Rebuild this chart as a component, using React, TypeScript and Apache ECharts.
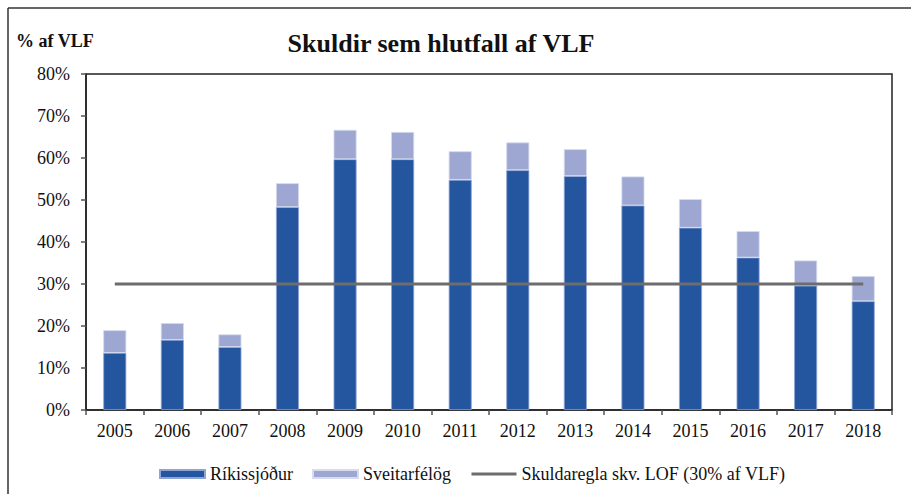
import React, { useEffect, useRef } from "react";
import * as echarts from "echarts";

const years = ["2005", "2006", "2007", "2008", "2009", "2010", "2011", "2012", "2013", "2014", "2015", "2016", "2017", "2018"];
const rikissjodur = [13.6, 16.7, 15.0, 48.3, 59.7, 59.7, 54.8, 57.1, 55.7, 48.7, 43.4, 36.3, 29.6, 25.9];
const sveitarfelog = [5.4, 4.0, 3.0, 5.7, 7.0, 6.5, 6.8, 6.6, 6.4, 6.9, 6.8, 6.3, 6.0, 6.0];
const skuldaregla = [30, 30, 30, 30, 30, 30, 30, 30, 30, 30, 30, 30, 30, 30];

const FONT = "'Liberation Serif', 'Times New Roman', serif";

export default function App() {
  const ref = useRef<HTMLDivElement>(null);
  useEffect(() => {
    document.body.style.margin = "0";
    if (!ref.current) return;
    const chart = echarts.init(ref.current, null, { renderer: "svg" });
    chart.setOption({
      animation: false,
      backgroundColor: "#ffffff",
      textStyle: { fontFamily: FONT },
      graphic: [
        { type: "line", shape: { x1: 8, y1: 8, x2: 911, y2: 8 }, style: { stroke: "#333", lineWidth: 1.5 } },
        { type: "line", shape: { x1: 8, y1: 8, x2: 8, y2: 494 }, style: { stroke: "#333", lineWidth: 1.5 } },
        {
          type: "text",
          x: 441,
          y: 30,
          style: {
            text: "Skuldir sem hlutfall af VLF",
            font: "bold 26px " + FONT,
            fill: "#111",
            textAlign: "center",
          },
        },
        {
          type: "text",
          x: 16,
          y: 32,
          style: { text: "% af VLF", font: "bold 18px " + FONT, fill: "#111" },
        },
      ],
      legend: {
        left: 154,
        top: 460,
        itemWidth: 45,
        itemHeight: 8,
        itemGap: 19,
        textStyle: { fontFamily: FONT, fontSize: 18, color: "#111" },
        data: [
          { name: "Ríkissjóður", icon: "rect" },
          { name: "Sveitarfélög", icon: "rect" },
          {
            name: "Skuldaregla skv. LOF (30% af VLF)",
            itemStyle: { opacity: 0 },
            lineStyle: { width: 3, color: "#6D6D6D" },
          },
        ],
      },
      grid: {
        left: 86,
        top: 74,
        right: 19,
        bottom: 84,
        show: true,
        borderColor: "#222",
        borderWidth: 1.5,
      },
      xAxis: {
        type: "category",
        data: years,
        boundaryGap: true,
        axisLine: { lineStyle: { color: "#222", width: 1.5 } },
        axisTick: { show: true, length: 5, lineStyle: { color: "#555", width: 1.5 } },
        axisLabel: { fontFamily: FONT, fontSize: 18, color: "#111", margin: 12 },
      },
      yAxis: {
        type: "value",
        min: 0,
        max: 80,
        interval: 10,
        axisLine: { show: true, lineStyle: { color: "#222", width: 1.5 } },
        axisTick: { show: true, length: 5, lineStyle: { color: "#555", width: 1.5 } },
        splitLine: { show: false },
        axisLabel: { fontFamily: FONT, fontSize: 18, color: "#111", margin: 16, formatter: "{value}%" },
      },
      series: [
        {
          name: "Ríkissjóður",
          type: "bar",
          stack: "total",
          data: rikissjodur,
          barWidth: 23,
          itemStyle: { color: "#2456A0", borderColor: "#8FA4D4", borderWidth: 0.8 },
        },
        {
          name: "Sveitarfélög",
          type: "bar",
          stack: "total",
          data: sveitarfelog,
          barWidth: 23,
          itemStyle: { color: "#9DA7D2", borderColor: "#D6DBEE", borderWidth: 0.8 },
        },
        {
          name: "Skuldaregla skv. LOF (30% af VLF)",
          type: "line",
          data: skuldaregla,
          symbol: "none",
          z: 5,
          itemStyle: { color: "#6D6D6D" },
          lineStyle: { color: "#6D6D6D", width: 3 },
        },
      ],
    });
    return () => chart.dispose();
  }, []);
  return <div ref={ref} style={{ width: 911, height: 494 }} />;
}
